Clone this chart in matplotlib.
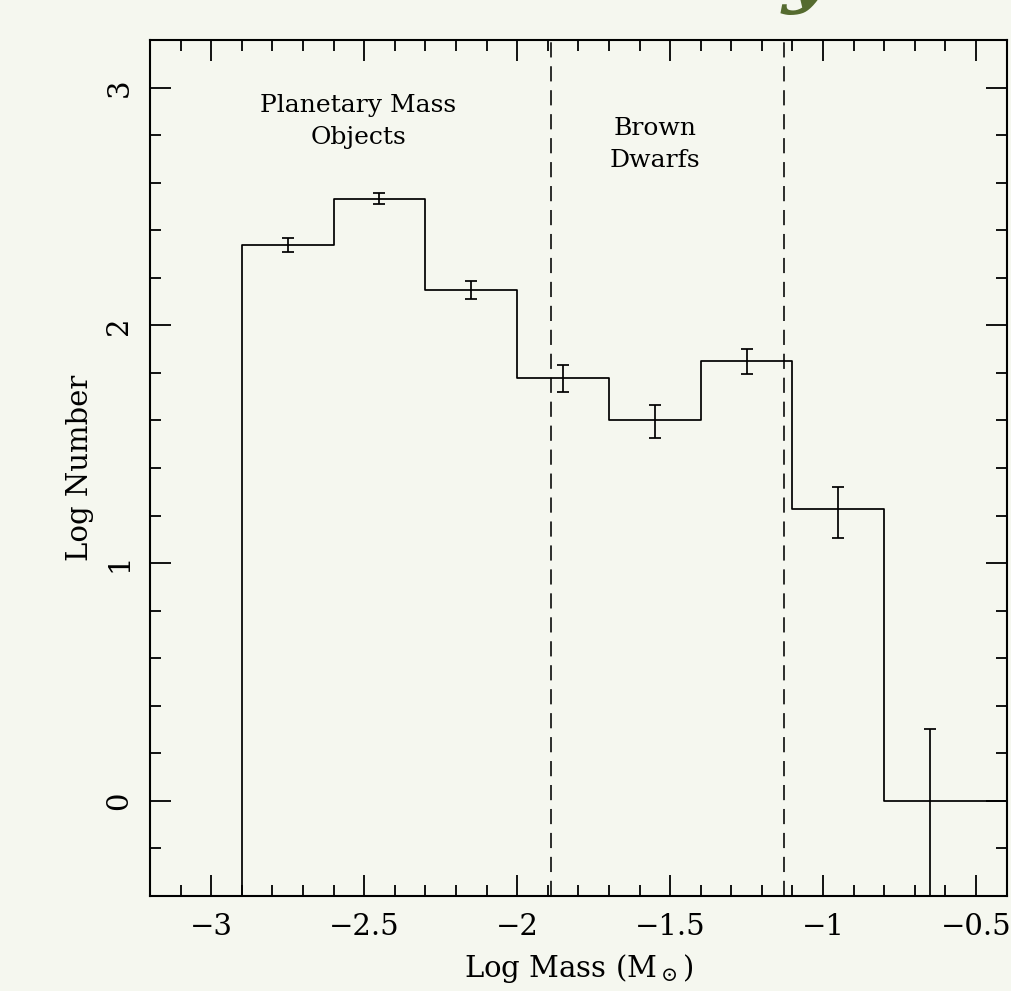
import numpy as np
import matplotlib
matplotlib.use('Agg')
import matplotlib.pyplot as plt
from matplotlib.ticker import MultipleLocator, FuncFormatter

# log mass bins (edges) and log number per bin
bin_edges = [-2.9, -2.6, -2.3, -2.0, -1.7, -1.4, -1.1, -0.8, -0.5]
log_number = [2.339, 2.533, 2.150, 1.780, 1.602, 1.850, 1.228, 0.0]
err_low = [0.031, 0.024, 0.038, 0.060, 0.074, 0.055, 0.121, 5.0]
err_high = [0.028, 0.023, 0.035, 0.053, 0.064, 0.049, 0.094, 0.301]

# deuterium / hydrogen burning limits
limits = [-1.89, -1.128]

XLIM = (-3.2, -0.4)
YLIM = (-0.4, 3.2)
BG = '#f5f7ef'
FONT = 'DejaVu Serif'
plt.rcParams['mathtext.fontset'] = 'dejavuserif'


def minus_fmt(v, pos):
    return ('%g' % v).replace('-', '\u2212')


fig = plt.figure(figsize=(10.11, 9.91), dpi=100, facecolor=BG)
ax = fig.add_axes([0.1484, 0.0959, 0.8473, 0.8637], facecolor=BG)

# stepped histogram, closed at the left down to the floor, open at the right
centers = [(bin_edges[i] + bin_edges[i + 1]) / 2 for i in range(len(log_number))]
xs = [bin_edges[0]] + bin_edges[:-1] + [XLIM[1]]
ys = [YLIM[0] - 1] + log_number + [log_number[-1]]
ax.step(xs, ys, where='post', color='black', lw=1.25)

ax.errorbar(centers, log_number, yerr=[err_low, err_high], fmt='none',
            ecolor='black', elinewidth=1.25, capsize=4.3, capthick=1.25)

for lim in limits:
    ax.axvline(lim, color='black', lw=1.15, dashes=(9.5, 5.5))

ax.text(-2.52, 2.975, 'Planetary Mass\nObjects', ha='center', va='top',
        fontsize=18, family=FONT, linespacing=1.5)
ax.text(-1.55, 2.875, 'Brown\nDwarfs', ha='center', va='top',
        fontsize=18, family=FONT, linespacing=1.5)

ax.set_xlim(*XLIM)
ax.set_ylim(*YLIM)

ax.xaxis.set_major_locator(MultipleLocator(0.5))
ax.xaxis.set_minor_locator(MultipleLocator(0.1))
ax.yaxis.set_major_locator(MultipleLocator(1))
ax.yaxis.set_minor_locator(MultipleLocator(0.2))
ax.xaxis.set_major_formatter(FuncFormatter(minus_fmt))
ax.yaxis.set_major_formatter(FuncFormatter(minus_fmt))

ax.tick_params(which='both', direction='in', top=True, right=True,
               width=1.3, colors='black')
ax.tick_params(which='major', length=15, pad=12, labelsize=21)
ax.tick_params(which='minor', length=8)
for lbl in ax.get_xticklabels() + ax.get_yticklabels():
    lbl.set_family(FONT)
for lbl in ax.get_yticklabels():
    lbl.set_rotation(90)
    lbl.set_va('center')

for sp in ax.spines.values():
    sp.set_linewidth(1.5)

ax.set_xlabel('Log Mass (M$_\\odot$)', fontsize=21, family=FONT, labelpad=8)
ax.set_ylabel('Log Number', fontsize=21, family=FONT, labelpad=8)

# cut-off slide title glyph at the very top
fig.text(0.797, 1.003, 'y', fontsize=60, family=FONT, style='italic',
         weight='bold', color='#556b2f', ha='center', va='baseline')

fig.savefig('out.png', dpi=100, facecolor=BG)
